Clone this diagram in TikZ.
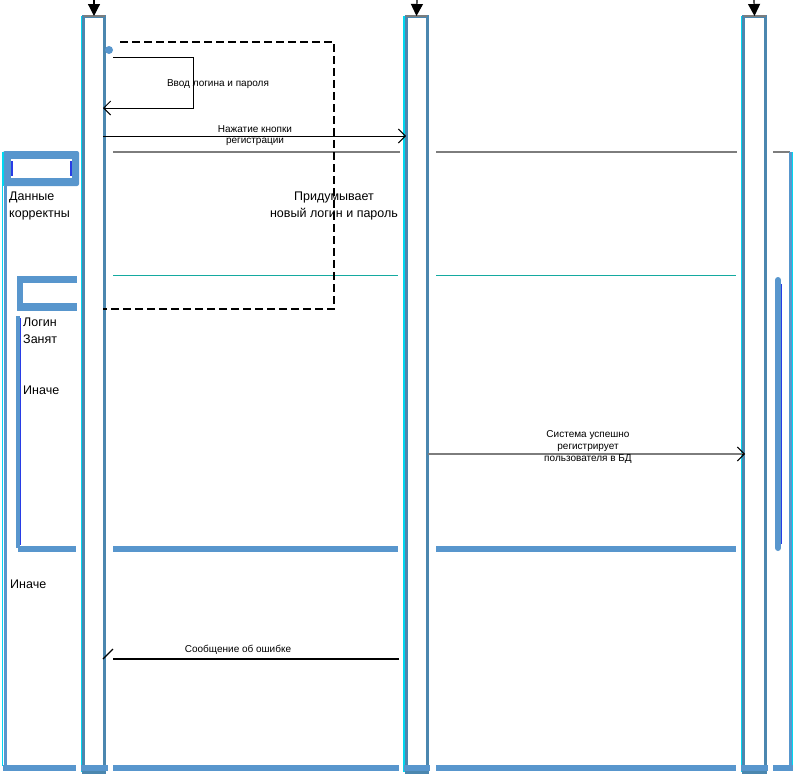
\documentclass[tikz,border=0pt]{standalone}
\usepackage{fontspec}
\setmainfont{Liberation Sans}
\usetikzlibrary{arrows.meta}
\definecolor{lblue}{RGB}{88,150,205}
\definecolor{ledge}{RGB}{75,135,175}
\definecolor{lcyan}{RGB}{0,215,240}
\definecolor{lteal}{RGB}{20,170,160}
\definecolor{lgray}{RGB}{125,125,125}
\definecolor{dblue}{RGB}{40,60,230}
\begin{document}
\begin{tikzpicture}[x=1pt,y=-1pt,
  lifebar/.style={draw=ledge, line width=3pt, fill=white, inner sep=0pt, outer sep=0pt, minimum height=756pt},
  topin/.style={-{Triangle[width=12pt,length=12pt]}, line width=1.2pt},
  msg/.style={line width=1pt, -{Straight Barb[length=7pt,width=14pt]}},
  small/.style={font=\fontsize{10}{12}\selectfont, inner sep=0pt, align=center},
  big/.style={font=\fontsize{12.5}{17}\selectfont, inner sep=0pt, align=left, anchor=west},
  bbar/.style={lblue, line width=6pt},
  frameedge/.style={lblue, line width=3pt},
  cyanline/.style={lcyan, line width=1.2pt}
]
\useasboundingbox (0,0) rectangle (796,779);

% lifelines
\node[lifebar, minimum width=21pt] (L1) at (94,394) {};
\node[lifebar, minimum width=21pt] (L2) at (416.5,394) {};
\node[lifebar, minimum width=22pt] (L3) at (754.5,394) {};
\foreach \n in {L1,L2,L3}{
  \draw[cyanline] ([xshift=-2pt]\n.north west) -- ([xshift=-2pt]\n.south west);
  \draw[lgray, line width=1.5pt] (\n.north west) -- (\n.north east);
}
\coordinate (t1) at (94,0);
\coordinate (t2) at (417,0);
\coordinate (t3) at (754,0);
\draw[topin] (t1) -- (L1.north);
\draw[topin] (t2) -- (L2.north);
\draw[topin] (t3) -- (L3.north);

% outer frame
\draw[lgray, line width=1.5pt] (113,152) -- (400,152);
\draw[lgray, line width=1.5pt] (436,152) -- (737,152);
\draw[lgray, line width=1.5pt] (773,152) -- (790,152);
\draw[frameedge] (5,186) -- (5,766);
\draw[cyanline] (2.5,186) -- (2.5,766);
\draw[frameedge] (790,152) -- (790,766);
\draw[cyanline] (792.5,152) -- (792.5,766);
\foreach \a/\b in {3/76,81/108,113/399,404/430,436/736,741/768,773/793}{
  \draw[bbar] (\a,768) -- (\b,768);
}
% outer tab
\fill[lblue, rounded corners=2pt] (3,151) rectangle (79,186);
\fill[white] (11,159) rectangle (72,178);
\draw[dblue, line width=1.2pt] (12,161) -- (12,176);
\draw[dblue, line width=1.2pt] (71,161) -- (71,176);
\draw[cyanline] (3,152) -- (3,186);

% inner frame
\draw[lteal, line width=1pt] (113,275) -- (398,275);
\draw[lteal, line width=1pt] (436,275) -- (736,275);
\fill[lblue] (17,276) rectangle (77,283);
\fill[lblue] (17,303) rectangle (77,311);
\fill[lblue] (17,276) rectangle (23,311);
\draw[lblue, line width=4pt] (18,316) -- (18,548);
\draw[dblue, line width=0.8pt] (20,318) -- (20,545);
\foreach \a/\b in {18/76,113/398,436/736}{
  \draw[bbar] (\a,549) -- (\b,549);
}
\draw[lblue, line width=6pt, line cap=round] (778,280) -- (778,548);
\draw[dblue, line width=0.8pt] (781,284) -- (781,544);

% dashed box
\draw[line width=1.2pt, dash pattern=on 8pt off 4pt] (120,42) -- (334,42) -- (334,309) -- (103,309);

% self message
\fill[lblue] (109,50) circle (4pt);
\coordinate (s0) at (113,57);
\coordinate (s1) at (193,57);
\coordinate (s2) at (193,108);
\coordinate (s3) at (103,108);
\draw[msg] (s0) -- (s1) -- (s2) -- (s3);
\node[small] (lbl1) at (218,84) {Ввод логина и пароля};

% message 1
\coordinate (m1a) at (103,136);
\coordinate (m1b) at (406,136);
\draw[msg] (m1a) -- (m1b);
\node[small] (lbl2) at (255,129) {Нажатие кнопки};
\node[small] (lbl3) at (255,142) {регистрации};

\node[font=\fontsize{12.5}{17}\selectfont, inner sep=0pt, align=center] (idea) at (334,206) {Придумывает\\новый логин и пароль};

% message 2
\coordinate (m2a) at (428,454);
\coordinate (m2b) at (745,454);
\draw[lgray, line width=1.3pt] (m2a) -- (m2b);
\draw[line width=1pt, -{Straight Barb[length=7pt,width=14pt]}] ([xshift=-3pt]m2b) -- (m2b);
\node[small] (lbl4) at (588,447) {Система успешно\\регистрирует\\пользователя в БД};

% message 3
\coordinate (m3a) at (399,659);
\coordinate (m3b) at (113,659);
\coordinate (m3c) at (103,659);
\coordinate (m3d) at (113,649);
\draw[line width=1.2pt] (m3a) -- (m3b);
\draw[line width=1.2pt] (m3c) -- (m3d);
\node[small] (lbl5) at (238,650) {Сообщение об ошибке};

% frame labels
\node[big] (g1) at (9,206) {Данные\\корректны};
\node[big] (g2) at (23,331) {Логин\\Занят};
\node[big] (g3) at (23,390) {Иначе};
\node[big] (g4) at (10,584) {Иначе};
\end{tikzpicture}
\end{document}
